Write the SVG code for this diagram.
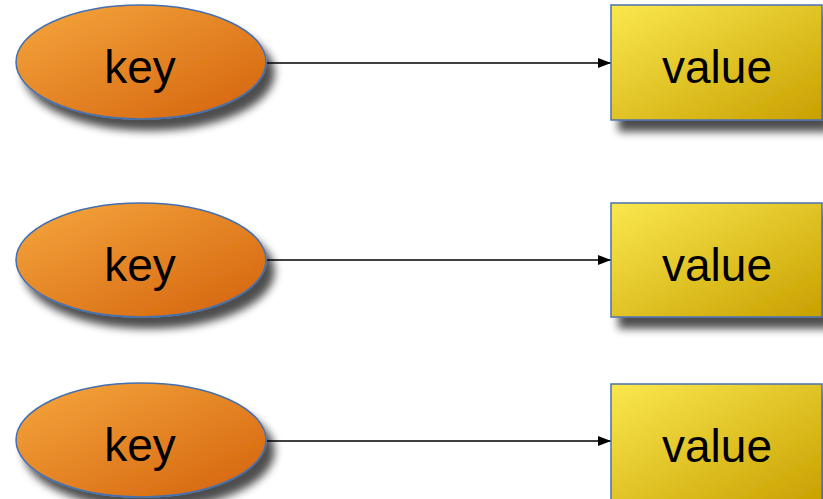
<svg xmlns="http://www.w3.org/2000/svg" width="823" height="499" viewBox="0 0 823 499">
<defs>
  <linearGradient id="gOrange" x1="0" y1="0" x2="1" y2="1">
    <stop offset="0" stop-color="#F6A73E"/>
    <stop offset="1" stop-color="#D3620C"/>
  </linearGradient>
  <linearGradient id="gYellow" x1="0" y1="0" x2="1" y2="1">
    <stop offset="0" stop-color="#FAE84E"/>
    <stop offset="1" stop-color="#C8A000"/>
  </linearGradient>
  <filter id="shadow" x="-20%" y="-20%" width="150%" height="160%">
    <feGaussianBlur in="SourceAlpha" stdDeviation="4.5"/>
    <feOffset dx="8" dy="11" result="b"/>
    <feComponentTransfer><feFuncA type="linear" slope="0.7"/></feComponentTransfer>
    <feMerge><feMergeNode/><feMergeNode in="SourceGraphic"/></feMerge>
  </filter>
  <marker id="arrow" markerWidth="13" markerHeight="10" refX="13" refY="5" orient="auto" markerUnits="userSpaceOnUse">
    <path d="M0,0 L13,5 L0,10 Z" fill="#000"/>
  </marker>
</defs>
<style>
  .key { fill: url(#gOrange); stroke: #4470B0; stroke-width: 1.5; filter: url(#shadow); }
  .val { fill: url(#gYellow); stroke: #4A72B0; stroke-width: 1.5; filter: url(#shadow); }
  .lbl { font-family: "Liberation Sans", Arial, sans-serif; font-size: 46px; fill: #000; text-anchor: middle; }
  .edge { stroke: #000; stroke-width: 1.5; fill: none; marker-end: url(#arrow); }
</style>
<g id="connectors">
  <line class="edge" x1="267" y1="63" x2="611" y2="63"/>
  <line class="edge" x1="267" y1="260" x2="611" y2="260"/>
  <line class="edge" x1="267" y1="441" x2="611" y2="441"/>
</g>
<g id="key1">
  <ellipse class="key" cx="141" cy="62" rx="125" ry="57"/>
  <text class="lbl" x="140" y="83">key</text>
</g>
<g id="key2">
  <ellipse class="key" cx="141" cy="260" rx="125" ry="57"/>
  <text class="lbl" x="140" y="281">key</text>
</g>
<g id="key3">
  <ellipse class="key" cx="141" cy="440" rx="125" ry="57"/>
  <text class="lbl" x="140" y="461">key</text>
</g>
<g id="value1">
  <rect class="val" x="611" y="5" width="211" height="115"/>
  <text class="lbl" x="717" y="83">value</text>
</g>
<g id="value2">
  <rect class="val" x="611" y="203" width="211" height="114"/>
  <text class="lbl" x="717" y="281">value</text>
</g>
<g id="value3">
  <rect class="val" x="611" y="384" width="211" height="120"/>
  <text class="lbl" x="717" y="462">value</text>
</g>
</svg>
